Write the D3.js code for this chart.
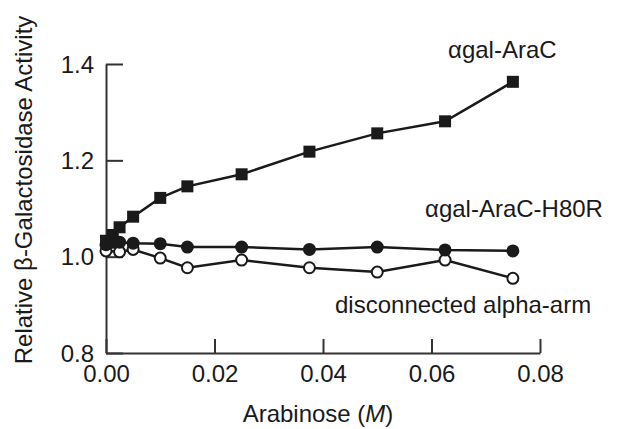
<!DOCTYPE html>
<html>
<head>
<meta charset="utf-8">
<script src="https://cdn.jsdelivr.net/npm/d3@7"></script>
<style>
    body { margin: 0; background: #fff; }
    text { font-family: "Liberation Sans", Arial, Helvetica, sans-serif; fill: #1a1a1a; }
</style>
</head>
<body>
<svg id="chart" width="632" height="429"></svg>
<script>
// arabinose concentrations (M)
const concAll = [0, 0.00125, 0.0025, 0.005, 0.01, 0.015, 0.025, 0.0375, 0.05, 0.0625, 0.075];
const concOpen = [0, 0.0025, 0.005, 0.01, 0.015, 0.025, 0.0375, 0.05, 0.0625, 0.075];

const araC = [1.033, 1.045, 1.061, 1.083, 1.122, 1.146, 1.171, 1.218, 1.256, 1.281, 1.363];
const araCH80R = [1.025, 1.03, 1.03, 1.028, 1.027, 1.02, 1.02, 1.015, 1.02, 1.014, 1.012];
const disconnected = [1.012, 1.01, 1.015, 0.997, 0.977, 0.993, 0.977, 0.968, 0.993, 0.955];

const xTicks = [0, 0.02, 0.04, 0.06, 0.08];
const yTicks = [0.8, 1.0, 1.2, 1.4];

const svg = d3.select('#chart');
const ink = '#1a1a1a';

const x = d3.scaleLinear().domain([0, 0.08]).range([106, 540]);
const y = d3.scaleLinear().domain([0.8, 1.4]).range([353, 64]);

// axes, ticks pointing inward
const xAxis = svg.append('g')
    .attr('transform', `translate(0,${y(0.8)})`)
    .call(d3.axisBottom(x).tickValues(xTicks).tickFormat(d3.format('.2f'))
        .tickSizeInner(-14).tickSizeOuter(0).tickPadding(11));

const yAxis = svg.append('g')
    .attr('transform', `translate(${x(0)},0)`)
    .call(d3.axisLeft(y).tickValues(yTicks).tickFormat(d3.format('.1f'))
        .tickSizeInner(-17).tickSizeOuter(0).tickPadding(12));

[xAxis, yAxis].forEach(ax => {
    ax.selectAll('path, line').attr('stroke', '#333').attr('stroke-width', 2);
    ax.selectAll('text').attr('font-size', 24).attr('fill', '#1a1a1a')
        .attr('font-family', '"Liberation Sans", Arial, sans-serif');
});
xAxis.selectAll('text').attr('dy', '0.75em');
yAxis.selectAll('text').attr('dy', '0.34em');

// axis titles
svg.append('text')
    .attr('x', 318).attr('y', 422)
    .attr('text-anchor', 'middle').attr('font-size', 24)
    .html('Arabinose (<tspan font-style="italic">M</tspan>)');

svg.append('text')
    .attr('transform', 'translate(32,190) rotate(-90)')
    .attr('text-anchor', 'middle').attr('font-size', 24)
    .text('Relative β-Galactosidase Activity');

const line = d3.line().x(d => x(d[0])).y(d => y(d[1]));

function drawSeries(xs, ys) {
    const pts = xs.map((c, i) => [c, ys[i]]);
    svg.append('path')
        .datum(pts)
        .attr('d', line)
        .attr('fill', 'none')
        .attr('stroke', ink)
        .attr('stroke-width', 2.5);
    return pts;
}

// disconnected alpha-arm: open circles
const openPts = drawSeries(concOpen, disconnected);
svg.append('g').selectAll('circle').data(openPts).join('circle')
    .attr('cx', d => x(d[0])).attr('cy', d => y(d[1])).attr('r', 5.5)
    .attr('fill', '#fff').attr('stroke', ink).attr('stroke-width', 2);

// H80R: filled circles
const filledPts = drawSeries(concAll, araCH80R);
svg.append('g').selectAll('circle').data(filledPts).join('circle')
    .attr('cx', d => x(d[0])).attr('cy', d => y(d[1])).attr('r', 6.5)
    .attr('fill', ink);

// AraC: filled squares
const sqPts = drawSeries(concAll, araC);
const s = 12;
svg.append('g').selectAll('rect').data(sqPts).join('rect')
    .attr('x', d => x(d[0]) - s / 2).attr('y', d => y(d[1]) - s / 2)
    .attr('width', s).attr('height', s)
    .attr('fill', ink);

// series labels
const labels = [
    { text: 'αgal-AraC', x: 448, y: 58 },
    { text: 'αgal-AraC-H80R', x: 425, y: 217 },
    { text: 'disconnected alpha-arm', x: 335, y: 313 }
];
svg.append('g').selectAll('text').data(labels).join('text')
    .attr('x', d => d.x).attr('y', d => d.y)
    .attr('font-size', 24)
    .text(d => d.text);
</script>
</body>
</html>
